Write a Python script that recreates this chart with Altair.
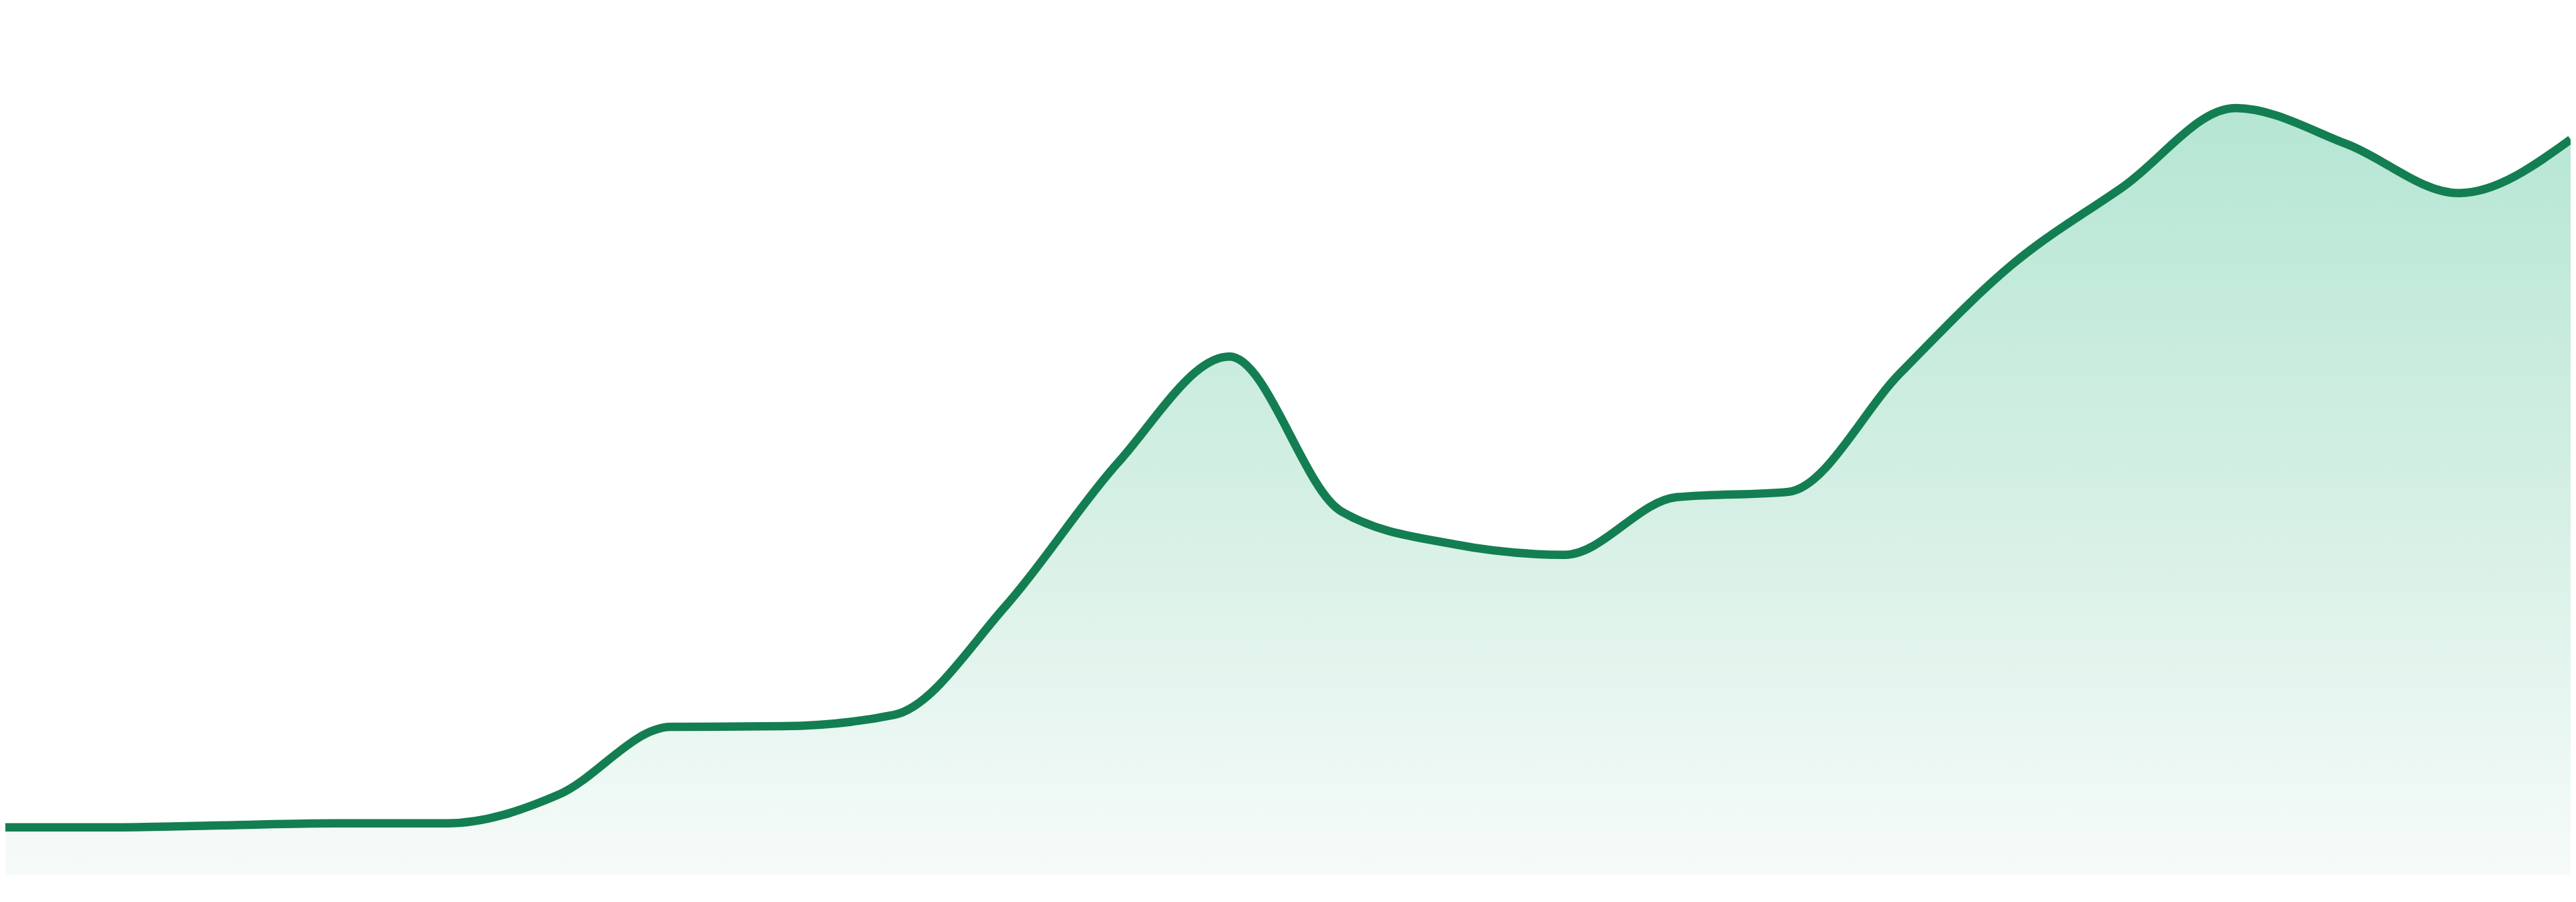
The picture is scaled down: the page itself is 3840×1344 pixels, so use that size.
import altair as alt
import pandas as pd

# index of each observation (evenly spaced)
period = list(range(24))
# series values
values = [7.1, 7.1, 7.4, 7.7, 7.7, 12.0, 22.1, 22.2, 23.9, 40.2, 61.5, 77.4,
          54.3, 49.4, 47.8, 56.4, 57.2, 74.9, 91.1, 102.8, 114.5, 109.1, 101.8, 109.8]

df = pd.DataFrame({"period": period, "value": values})

LINE = "#137e52"

x_enc = alt.X("period:Q", axis=None,
              scale=alt.Scale(domain=[0, 23], nice=False, zero=False,
                              range=[-8, 3832]))
y_enc = alt.Y("value:Q", axis=None,
              scale=alt.Scale(domain=[0, 129.7], nice=False, zero=True))

area = alt.Chart(df).mark_area(
    interpolate="monotone",
    color=alt.Gradient(
        gradient="linear",
        stops=[
            alt.GradientStop(color="#b5e6d3", offset=0),
            alt.GradientStop(color="#d4efe4", offset=0.5),
            alt.GradientStop(color="#f6fbf9", offset=1),
        ],
        x1=0, x2=0, y1=0, y2=1,
    ),
).encode(x=x_enc, y=y_enc)

line = alt.Chart(df).mark_line(
    interpolate="monotone", color=LINE, strokeWidth=12.5, strokeJoin="round"
).encode(x=x_enc, y=y_enc)

chart = alt.layer(area, line).properties(
    width=3832, height=1297, padding=0,
    autosize=alt.AutoSizeParams(type="none"),
).configure_view(stroke=None)

chart.save("out.html", embed_options={"renderer": "svg", "actions": False})
